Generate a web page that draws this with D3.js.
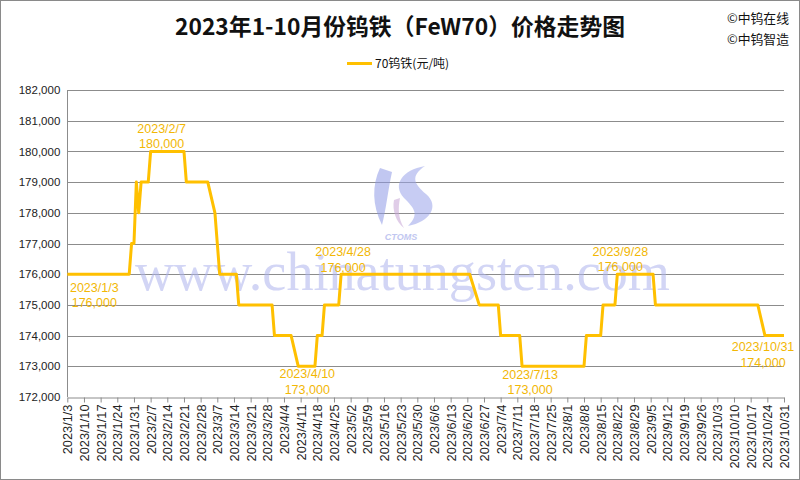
<!DOCTYPE html>
<html>
<head>
<meta charset="utf-8">
<script src="https://cdn.jsdelivr.net/npm/d3@7/dist/d3.min.js"></script>
<style>
  html, body { margin: 0; padding: 0; background: #fff; }
  svg { display: block; }
</style>
</head>
<body>
<svg id="chart" width="800" height="480"></svg>
<script>
// ---------------- data ----------------
const seriesName = "70钨铁(元/吨)";
const dates = [
  "2023/1/3","2023/1/29","2023/1/30","2023/1/31","2023/2/1","2023/2/2","2023/2/3","2023/2/6",
  "2023/2/7","2023/2/21","2023/2/22","2023/3/3","2023/3/6","2023/3/7","2023/3/8","2023/3/15",
  "2023/3/16","2023/3/30","2023/3/31","2023/4/7","2023/4/10","2023/4/17","2023/4/18","2023/4/20",
  "2023/4/21","2023/4/27","2023/4/28","2023/6/21","2023/6/25","2023/7/3","2023/7/4","2023/7/12",
  "2023/7/13","2023/8/8","2023/8/9","2023/8/15","2023/8/16","2023/8/21","2023/8/22","2023/9/6",
  "2023/9/7","2023/10/20","2023/10/23","2023/10/31"
];
const prices = [
  176000,176000,177000,177000,179000,178000,179000,179000,
  180000,180000,179000,179000,178000,177000,176000,176000,
  175000,175000,174000,174000,173000,173000,174000,174000,
  175000,175000,176000,176000,175000,175000,174000,174000,
  173000,173000,174000,174000,175000,175000,176000,176000,
  175000,175000,174000,174000
];
const yTickValues = [172000,173000,174000,175000,176000,177000,178000,179000,180000,181000,182000];
// data labels: point they belong to, and the date text shown
const labelPointDates = ["2023/1/3","2023/2/7","2023/4/28","2023/4/10","2023/7/13","2023/8/22","2023/10/31"];
const labelTexts      = ["2023/1/3","2023/2/7","2023/4/28","2023/4/10","2023/7/13","2023/9/28","2023/10/31"];
const titleText = "2023年1-10月份钨铁（FeW70）价格走势图";
const copyrightLines = ["©中钨在线","©中钨智造"];

// ---------------- layout ----------------
const W = 800, H = 480;
const plot = { left: 67.3, right: 784, top: 90, bottom: 397 };
const parse = d3.timeParse("%Y/%m/%d");
const fmtDate = d3.timeFormat("%Y/%-m/%-d");
const fmtNum = d3.format(",");
const color = "#FFC000";

const data = dates.map((d, i) => ({ date: parse(d), value: prices[i], key: d }));

const svg = d3.select("#chart");

// background + border
svg.append("rect").attr("x", 0.5).attr("y", 0.5).attr("width", W - 1).attr("height", H - 1)
  .attr("fill", "#fff").attr("stroke", "#8a8a8a").attr("stroke-width", 1);

const x = d3.scaleTime()
  .domain([parse("2023/1/3"), parse("2023/10/31")])
  .range([plot.left, plot.right]);
const y = d3.scaleLinear()
  .domain([172000, 182000])
  .range([plot.bottom, plot.top]);

// gridlines
svg.append("g").selectAll("line").data(yTickValues.filter(v => v !== 172000)).join("line")
  .attr("x1", plot.left).attr("x2", plot.right)
  .attr("y1", d => Math.round(y(d)) + 0.5).attr("y2", d => Math.round(y(d)) + 0.5)
  .attr("stroke", "#8c8c8c").attr("stroke-width", 1);

// watermark (behind line)
const wm = svg.append("g").attr("opacity", 0.55);
wm.append("text").attr("x", 135).attr("y", 290)
  .attr("font-family", "Liberation Serif, DejaVu Serif, serif")
  .attr("font-size", 55).attr("fill", "#aeb4ee")
  .attr("textLength", 535).attr("lengthAdjust", "spacingAndGlyphs")
  .text("www.chinatungsten.com");
// logo
const logo = wm.append("g");
logo.append("path")
  .attr("d", "M380,168 C372,185 372,205 382,225 C386,210 388,190 392,172 Z")
  .attr("fill", "#8f9ae6");
logo.append("path")
  .attr("d", "M425,166 C402,170 392,185 404,198 C414,208 420,214 408,226 C430,222 440,206 426,194 C414,184 410,176 425,166 Z")
  .attr("fill", "#9aa4ea");
logo.append("path")
  .attr("d", "M394,200 C392,210 396,222 404,228 C398,218 398,208 400,198 Z")
  .attr("fill", "#c7a6d6");
logo.append("text").attr("x", 401).attr("y", 240).attr("text-anchor", "middle")
  .attr("font-family", "Liberation Sans, sans-serif").attr("font-style", "italic").attr("font-weight", "bold")
  .attr("font-size", 9).attr("fill", "#8f9ae6").text("CTOMS");

// axes lines
svg.append("line").attr("x1", Math.round(plot.left) + 0.5).attr("x2", Math.round(plot.left) + 0.5)
  .attr("y1", plot.top).attr("y2", plot.bottom).attr("stroke", "#8c8c8c");

// y axis labels
const yAxis = d3.axisLeft(y).tickValues(yTickValues).tickFormat(fmtNum).tickSize(0).tickPadding(7);
const gy = svg.append("g").attr("transform", `translate(${plot.left},0)`).call(yAxis);
gy.select(".domain").remove();
gy.selectAll("text").attr("font-family", "Liberation Sans, Arial, sans-serif")
  .attr("font-size", 11.5).attr("fill", "#222");

// x axis
const xTicks = d3.timeTuesday.range(parse("2023/1/3"), d3.timeDay.offset(parse("2023/10/31"), 1));
const xAxis = d3.axisBottom(x).tickValues(xTicks).tickFormat(fmtDate).tickSize(5).tickSizeOuter(0);
const gx = svg.append("g").attr("transform", `translate(0,${Math.round(plot.bottom) + 0.5})`).call(xAxis);
gx.select(".domain").attr("stroke", "#8c8c8c");
gx.selectAll(".tick line").attr("stroke", "#8c8c8c");
gx.selectAll("text")
  .attr("font-family", "Liberation Sans, Arial, sans-serif")
  .attr("font-size", 12.8).attr("fill", "#222")
  .attr("transform", "rotate(-90)")
  .attr("text-anchor", "end")
  .attr("x", -7).attr("y", 0).attr("dy", "0.35em");

// series line
const line = d3.line().x(d => x(d.date)).y(d => y(d.value));
svg.append("path").datum(data)
  .attr("d", line).attr("fill", "none")
  .attr("stroke", color).attr("stroke-width", 3)
  .attr("stroke-linejoin", "round");

// data labels
const labelOffsets = [
  { dx: 27, dy1: 13, dy2: 28 },
  { dx: 11, dy1: -23, dy2: -8 },
  { dx: 2,  dy1: -23, dy2: -7 },
  { dx: 9,  dy1: 7,   dy2: 23 },
  { dx: 8,  dy1: 8,   dy2: 23 },
  { dx: 3,  dy1: -23, dy2: -8 },
  { dx: -21, dy1: 11, dy2: 27 }
];
const lab = svg.append("g").attr("font-family", "Liberation Sans, Arial, sans-serif")
  .attr("font-size", 12.5).attr("fill", "#F2B705").attr("text-anchor", "middle");
labelPointDates.forEach((k, i) => {
  const p = data.find(d => d.key === k);
  const px = x(p.date), py = y(p.value), o = labelOffsets[i];
  lab.append("text").attr("x", px + o.dx).attr("y", py + o.dy1).attr("dy", "0.35em").text(labelTexts[i]);
  lab.append("text").attr("x", px + o.dx).attr("y", py + o.dy2).attr("dy", "0.35em").text(fmtNum(p.value));
});

// title
svg.append("text").attr("x", 400).attr("y", 27).attr("dy", "0.35em")
  .attr("text-anchor", "middle")
  .attr("font-family", "Noto Sans CJK SC, sans-serif").attr("font-weight", "bold")
  .attr("font-size", 23).attr("fill", "#111")
  .attr("textLength", 450).attr("lengthAdjust", "spacingAndGlyphs")
  .text(titleText);

// copyright
copyrightLines.forEach((t, i) => {
  svg.append("text").attr("x", 727).attr("y", 18 + i * 21).attr("dy", "0.35em")
    .attr("font-family", "Noto Sans CJK SC, sans-serif").attr("font-size", 13).attr("fill", "#111")
    .attr("textLength", 62).attr("lengthAdjust", "spacingAndGlyphs")
    .text(t);
});

// legend
const lg = svg.append("g");
lg.append("line").attr("x1", 347).attr("x2", 372).attr("y1", 63.5).attr("y2", 63.5)
  .attr("stroke", color).attr("stroke-width", 3);
lg.append("text").attr("x", 375).attr("y", 63.5).attr("dy", "0.35em")
  .attr("font-family", "Noto Sans CJK SC, sans-serif").attr("font-size", 12).attr("fill", "#111")
  .text(seriesName);
</script>
</body>
</html>
